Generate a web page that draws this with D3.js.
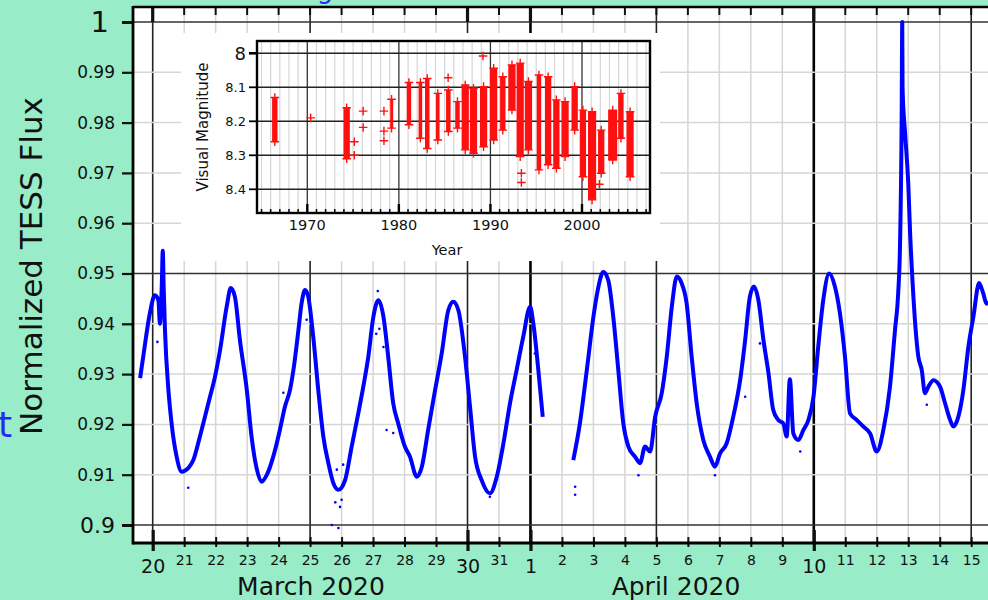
<!DOCTYPE html>
<html>
<head>
<meta charset="utf-8">
<script src="https://cdn.jsdelivr.net/npm/d3@7"></script>
<style>
  body { margin: 0; background: #98ecc8; }
  svg { display: block; font-family: "DejaVu Sans", sans-serif; }
</style>
</head>
<body>
<div id="chart"></div>
<script>
// TESS light curve. Time is counted in days from 1 March 2020, so April 1 = 32
const fluxTime = [19.60, 19.70, 19.91, 20.07, 20.18, 20.23, 20.29, 20.32, 20.35, 20.39, 20.50, 20.60, 20.76, 20.92,
  21.13, 21.29, 21.50, 21.82, 21.98, 22.14, 22.35, 22.48, 22.61, 22.77, 22.99, 23.14, 23.30, 23.46, 23.62, 23.83,
  24.04, 24.20, 24.36, 24.47, 24.63, 24.73, 24.84, 24.94, 25.10, 25.26, 25.42, 25.58, 25.74, 25.90, 26.11, 26.32,
  26.53, 26.69, 26.85, 27.01, 27.17, 27.33, 27.48, 27.64, 27.80, 28.01, 28.17, 28.39, 28.55, 28.75, 28.97, 29.18,
  29.39, 29.55, 29.71, 29.92, 30.08, 30.24, 30.45, 30.71, 30.93, 31.14, 31.35, 31.56, 31.77, 31.99, 32.09, 32.25, 32.39,
  33.36, 33.57, 33.79, 34.00, 34.16, 34.31, 34.47, 34.63, 34.79, 34.95, 35.11, 35.32, 35.48, 35.64, 35.80, 35.96,
  36.17, 36.33, 36.49, 36.65, 36.80, 36.96, 37.12, 37.28, 37.49, 37.70, 37.86, 38.02, 38.23, 38.44, 38.66, 38.82,
  38.97, 39.10, 39.24, 39.40, 39.56, 39.71, 39.87, 40.03, 40.14, 40.24, 40.35, 40.51, 40.67, 40.83, 40.99, 41.14,
  41.30, 41.49, 41.67, 41.83, 41.99, 42.15, 42.36, 42.57, 42.79, 43.00, 43.21, 43.42, 43.58, 43.68, 43.74, 43.79,
  43.81, 43.82, 43.90, 44.00, 44.06, 44.14, 44.32, 44.43, 44.53, 44.64, 44.80, 45.01, 45.17, 45.33, 45.43, 45.59,
  45.75, 45.91, 46.07, 46.25, 46.38, 46.49, 46.60];
const fluxValue = [0.9292, 0.9335, 0.9421, 0.9457, 0.9447, 0.9400, 0.9480, 0.9545, 0.9470, 0.9388, 0.9268, 0.9202, 0.9136, 0.9106,
  0.9113, 0.9129, 0.9176, 0.9255, 0.9295, 0.9348, 0.9434, 0.9471, 0.9454, 0.9368, 0.9268, 0.9176, 0.9113, 0.9086, 0.9099, 0.9136,
  0.9189, 0.9235, 0.9268, 0.9308, 0.9388, 0.9441, 0.9467, 0.9454, 0.9374, 0.9268, 0.9176, 0.9123, 0.9083, 0.9070, 0.9089, 0.9156,
  0.9222, 0.9275, 0.9335, 0.9414, 0.9447, 0.9414, 0.9335, 0.9242, 0.9202, 0.9156, 0.9136, 0.9096, 0.9116, 0.9189, 0.9268, 0.9341,
  0.9427, 0.9444, 0.9427, 0.9335, 0.9235, 0.9136, 0.9089, 0.9063, 0.9096, 0.9162, 0.9242, 0.9308, 0.9374, 0.9434, 0.9401, 0.9308, 0.9215,
  0.9129, 0.9202, 0.9308, 0.9414, 0.9474, 0.9503, 0.9487, 0.9414, 0.9308, 0.9202, 0.9156, 0.9136, 0.9123, 0.9156, 0.9146, 0.9215,
  0.9262, 0.9335, 0.9434, 0.9494, 0.9481, 0.9441, 0.9335, 0.9242, 0.9169, 0.9136, 0.9116, 0.9142, 0.9162, 0.9215, 0.9288, 0.9368,
  0.9454, 0.9474, 0.9447, 0.9368, 0.9302, 0.9229, 0.9209, 0.9202, 0.9176, 0.9290, 0.9182, 0.9169, 0.9189, 0.9209, 0.9255, 0.9354,
  0.9447, 0.9500, 0.9474, 0.9421, 0.9335, 0.9222, 0.9209, 0.9196, 0.9182, 0.9146, 0.9189, 0.9275, 0.9388, 0.9460, 0.9560, 0.9800,
  1.0000, 0.9867, 0.9779, 0.9680, 0.9580, 0.9480, 0.9335, 0.9308, 0.9262, 0.9275, 0.9288, 0.9275, 0.9242, 0.9209, 0.9196, 0.9215,
  0.9268, 0.9354, 0.9414, 0.9481, 0.9461, 0.9440, 0.9445];
// scattered points off the main band
const strayTime = [20.15, 21.13, 24.15, 24.89, 25.69, 25.80, 25.85, 25.90, 25.95, 26.00, 26.05, 27.10, 27.15, 27.20, 27.33,
  27.43, 27.64, 30.71, 32.14, 33.42, 33.42, 35.43, 37.86, 38.82, 39.29, 40.57, 44.59];
const strayValue = [0.9364, 0.9074, 0.9263, 0.9408, 0.9000, 0.9045, 0.9110, 0.8994, 0.9036, 0.9050, 0.9120, 0.9380, 0.9465, 0.9390, 0.9354,
  0.9189, 0.9183, 0.9056, 0.9341, 0.9060, 0.9076, 0.9099, 0.9099, 0.9255, 0.9361, 0.9146, 0.9239];

// inset: visual magnitude, one block per observing season
const seasonStart = [1966.1, 1973.9, 1979.0, 1980.8, 1982.1, 1982.8, 1984.0, 1985.1, 1986.1, 1986.8, 1987.7, 1988.8, 1989.9, 1991.0,
  1991.9, 1992.8, 1993.7, 1995.0, 1995.9, 1996.8, 1997.7, 1998.8, 1999.7, 2000.6, 2001.7, 2002.8, 2003.9, 2004.8];
const seasonEnd = [1966.8, 1974.7, 1979.4, 1981.4, 1982.6, 1983.4, 1984.5, 1985.7, 1986.7, 1987.7, 1988.6, 1989.7, 1990.8, 1991.7,
  1992.8, 1993.7, 1994.6, 1995.6, 1996.7, 1997.6, 1998.6, 1999.6, 2000.5, 2001.6, 2002.5, 2003.9, 2004.6, 2005.7];
const seasonBright = [8.13, 8.16, 8.135, 8.086, 8.086, 8.074, 8.118, 8.108, 8.142, 8.093, 8.103, 8.098, 8.044, 8.069,
  8.034, 8.029, 8.083, 8.064, 8.069, 8.137, 8.142, 8.098, 8.167, 8.172, 8.226, 8.167, 8.118, 8.172];
const seasonFaint = [8.26, 8.31, 8.22, 8.21, 8.25, 8.28, 8.255, 8.23, 8.22, 8.284, 8.294, 8.275, 8.255, 8.226,
  8.167, 8.304, 8.284, 8.343, 8.328, 8.338, 8.304, 8.226, 8.363, 8.431, 8.353, 8.314, 8.25, 8.363];
const singleYear = [1970.37, 1975.13, 1975.13, 1976.10, 1976.10, 1978.37, 1978.37, 1978.37, 1985.38, 1989.19, 1993.38, 1993.38, 2001.9];
const singleMag = [8.19, 8.26, 8.30, 8.17, 8.218, 8.17, 8.229, 8.257, 8.072, 8.008, 8.353, 8.38, 8.385];

const dayTicks = d3.range(20, 47);
const bigDays = [20, 30, 32, 41];
const darkDays = [20, 25, 30, 32, 36, 41, 46];
const thickDays = [32, 41];
const fluxTicks = [0.9, 0.91, 0.92, 0.93, 0.94, 0.95, 0.96, 0.97, 0.98, 0.99, 1];
const darkFlux = [0.9, 0.95, 1];
const magTicks = [8, 8.1, 8.2, 8.3, 8.4];
const yearTicks = [1970, 1980, 1990, 2000];
const minorYears = d3.range(1965, 2008);

const w = 988, h = 600;
const plotLeft = 133, plotRight = 1000, plotTop = 7, plotBottom = 543;

const svg = d3.select("#chart").append("svg")
  .attr("width", w)
  .attr("height", h);

const x = d3.scaleLinear().domain([20, 46]).range([152.7, 971.2]);
const y = d3.scaleLinear().domain([0.9, 1]).range([525, 22]);

svg.append("rect")
  .attr("x", plotLeft).attr("y", plotTop)
  .attr("width", plotRight - plotLeft).attr("height", plotBottom - plotTop)
  .attr("fill", "#fff");

svg.append("clipPath").attr("id", "plotClip")
  .append("rect")
  .attr("x", plotLeft).attr("y", plotTop)
  .attr("width", plotRight - plotLeft).attr("height", plotBottom - plotTop);

// grid
svg.append("g").selectAll("line")
  .data(dayTicks)
  .join("line")
  .attr("x1", d => x(d)).attr("x2", d => x(d))
  .attr("y1", plotTop).attr("y2", plotBottom)
  .attr("stroke", d => thickDays.includes(d) ? "#000" : darkDays.includes(d) ? "#222" : "#d6d6d6")
  .attr("stroke-width", d => thickDays.includes(d) ? 2.6 : darkDays.includes(d) ? 1.6 : 1.5);

svg.append("g").selectAll("line")
  .data(fluxTicks)
  .join("line")
  .attr("x1", plotLeft).attr("x2", plotRight)
  .attr("y1", d => y(d)).attr("y2", d => y(d))
  .attr("stroke", d => darkFlux.includes(d) ? "#333" : "#d6d6d6")
  .attr("stroke-width", 1.5);

// light curve
const plot = svg.append("g").attr("clip-path", "url(#plotClip)");
const pts = fluxTime.map((t, i) => ({ t: t, v: fluxValue[i] }));
const segments = [[]];
pts.forEach((p, i) => {
  if (i > 0 && p.t - pts[i - 1].t > 0.5) segments.push([]);
  segments[segments.length - 1].push(p);
});
const line = d3.line()
  .x(d => x(d.t))
  .y(d => y(d.v))
  .curve(d3.curveMonotoneX);

plot.selectAll("path.flux")
  .data(segments)
  .join("path")
  .attr("class", "flux")
  .attr("d", line)
  .attr("fill", "none")
  .attr("stroke", "#0000ff")
  .attr("stroke-width", 4)
  .attr("stroke-linejoin", "round");

plot.selectAll("circle.stray")
  .data(strayTime.map((t, i) => ({ t: t, v: strayValue[i] })))
  .join("circle")
  .attr("class", "stray")
  .attr("cx", d => x(d.t))
  .attr("cy", d => y(d.v))
  .attr("r", 1.3)
  .attr("fill", "#0000ff");

// axes
const xAxis = svg.append("g")
  .attr("transform", `translate(0,${plotBottom})`)
  .call(d3.axisBottom(x).tickValues(dayTicks).tickSize(4).tickFormat(d => d > 31 ? d - 31 : d));
xAxis.select(".domain").remove();
xAxis.selectAll(".tick line")
  .attr("y1", d => bigDays.includes(d) ? -13 : -6)
  .attr("y2", d => bigDays.includes(d) ? 8 : 4)
  .attr("stroke", "#111")
  .attr("stroke-width", d => bigDays.includes(d) ? 3.2 : 2);
xAxis.selectAll(".tick text")
  .attr("y", d => bigDays.includes(d) ? 30 : 22)
  .attr("dy", null)
  .attr("fill", "#111")
  .style("font-family", "DejaVu Sans")
  .style("font-size", d => bigDays.includes(d) ? "19px" : "14px");

svg.append("g").selectAll("line")
  .data(dayTicks)
  .join("line")
  .attr("x1", d => x(d)).attr("x2", d => x(d))
  .attr("y1", plotTop)
  .attr("y2", d => bigDays.includes(d) ? plotTop + 15 : plotTop + 8)
  .attr("stroke", "#111")
  .attr("stroke-width", d => bigDays.includes(d) ? 3.2 : 2);

const yAxis = svg.append("g")
  .attr("transform", `translate(${plotLeft},0)`)
  .call(d3.axisLeft(y).tickValues(fluxTicks).tickSize(11).tickPadding(7).tickFormat(d3.format("~g")));
yAxis.select(".domain").remove();
yAxis.selectAll(".tick line")
  .attr("stroke", "#111")
  .attr("stroke-width", d => d === 1 || d === 0.9 ? 3 : 2.2);
yAxis.selectAll(".tick text")
  .attr("x", d => d === 1 ? -24 : -18)
  .attr("fill", "#111")
  .style("font-family", "DejaVu Sans")
  .style("font-size", d => d === 1 ? "29px" : d === 0.9 ? "22px" : "17px");

// spines
svg.append("line").attr("x1", plotLeft).attr("x2", plotLeft).attr("y1", plotTop - 1).attr("y2", plotBottom + 1.5)
  .attr("stroke", "#000").attr("stroke-width", 2.8);
svg.append("line").attr("x1", plotLeft).attr("x2", plotRight).attr("y1", plotBottom).attr("y2", plotBottom)
  .attr("stroke", "#000").attr("stroke-width", 3);
svg.append("line").attr("x1", plotLeft).attr("x2", plotRight).attr("y1", plotTop).attr("y2", plotTop)
  .attr("stroke", "#000").attr("stroke-width", 2.4);

svg.append("text")
  .attr("transform", "translate(42,266) rotate(-90)")
  .attr("text-anchor", "middle")
  .attr("fill", "#111")
  .style("font-size", "31px")
  .text("Normalized TESS Flux");

svg.append("text")
  .attr("x", 311).attr("y", 595)
  .attr("text-anchor", "middle")
  .attr("fill", "#111")
  .style("font-size", "25px")
  .text("March 2020");

svg.append("text")
  .attr("x", 676).attr("y", 595)
  .attr("text-anchor", "middle")
  .attr("fill", "#111")
  .style("font-size", "25px")
  .text("April 2020");

// bits of outside text cut by the frame edge
svg.append("text")
  .attr("x", 12).attr("y", 437)
  .attr("text-anchor", "end")
  .attr("fill", "#2828f2")
  .style("font-size", "36px")
  .text("t");
svg.append("text")
  .attr("x", 325).attr("y", -2)
  .attr("text-anchor", "middle")
  .attr("fill", "#2828f2")
  .style("font-size", "26px")
  .text("g");

// inset
const inset = svg.append("g");
const iLeft = 257, iRight = 650, iTop = 41, iBottom = 213;
const xi = d3.scaleLinear().domain([1970, 2000]).range([307.3, 582]);
const yi = d3.scaleLinear().domain([8, 8.4]).range([53.3, 189.3]);

inset.append("rect")
  .attr("x", 181).attr("y", 33)
  .attr("width", 479).attr("height", 228)
  .attr("fill", "#fff");

inset.append("g").selectAll("line")
  .data(minorYears)
  .join("line")
  .attr("x1", d => xi(d)).attr("x2", d => xi(d))
  .attr("y1", iTop).attr("y2", iBottom)
  .attr("stroke", d => yearTicks.includes(d) ? "#333" : "#d6d6d6")
  .attr("stroke-width", d => yearTicks.includes(d) ? 1.3 : 1.2);

inset.append("g").selectAll("line")
  .data(magTicks)
  .join("line")
  .attr("x1", iLeft).attr("x2", iRight)
  .attr("y1", d => yi(d)).attr("y2", d => yi(d))
  .attr("stroke", "#222")
  .attr("stroke-width", 1.4);

const seasons = seasonStart.map((s, i) => ({ s: s, e: seasonEnd[i], b: seasonBright[i], f: seasonFaint[i] }));
inset.append("g").selectAll("rect")
  .data(seasons)
  .join("rect")
  .attr("x", d => xi(d.s) + 0.5)
  .attr("width", d => Math.max(3, xi(d.e) - xi(d.s) - 1))
  .attr("y", d => yi(d.b))
  .attr("height", d => yi(d.f) - yi(d.b))
  .attr("fill", "#ff1010");

const plus = d3.symbol(d3.symbolPlus, 26);
const markers = seasons.flatMap(d => [
  { yr: (d.s + d.e) / 2, m: d.b },
  { yr: (d.s + d.e) / 2, m: d.f }
]).concat(singleYear.map((yr, i) => ({ yr: yr, m: singleMag[i] })));
inset.append("g").selectAll("path")
  .data(markers)
  .join("path")
  .attr("transform", d => `translate(${xi(d.yr)},${yi(d.m)})`)
  .attr("d", plus)
  .attr("fill", "none")
  .attr("stroke", "#ff1010")
  .attr("stroke-width", 1.4);

inset.append("g").selectAll("line")
  .data(minorYears)
  .join("line")
  .attr("x1", d => xi(d)).attr("x2", d => xi(d))
  .attr("y1", iBottom)
  .attr("y2", d => yearTicks.includes(d) ? iBottom - 9 : iBottom - 4)
  .attr("stroke", "#000")
  .attr("stroke-width", d => yearTicks.includes(d) ? 2.4 : 1.5);

inset.append("g").selectAll("text")
  .data(yearTicks)
  .join("text")
  .attr("x", d => xi(d)).attr("y", 230)
  .attr("text-anchor", "middle")
  .attr("fill", "#111")
  .style("font-size", "14.5px")
  .text(d => d);

inset.append("g").selectAll("line")
  .data(magTicks)
  .join("line")
  .attr("x1", iLeft - 8).attr("x2", iLeft)
  .attr("y1", d => yi(d)).attr("y2", d => yi(d))
  .attr("stroke", "#000")
  .attr("stroke-width", d => d === 8 ? 2.6 : 1.8);

inset.append("g").selectAll("text")
  .data(magTicks)
  .join("text")
  .attr("x", 246).attr("y", d => yi(d))
  .attr("dy", "0.36em")
  .attr("text-anchor", "end")
  .attr("fill", "#111")
  .style("font-size", d => d === 8 ? "18px" : "13px")
  .text(d => d3.format("~g")(d));

inset.append("rect")
  .attr("x", iLeft).attr("y", iTop)
  .attr("width", iRight - iLeft).attr("height", iBottom - iTop)
  .attr("fill", "none")
  .attr("stroke", "#000")
  .attr("stroke-width", 2.4);

inset.append("text")
  .attr("x", 447).attr("y", 255)
  .attr("text-anchor", "middle")
  .attr("fill", "#111")
  .style("font-size", "14.5px")
  .text("Year");

inset.append("text")
  .attr("transform", "translate(208,127) rotate(-90)")
  .attr("text-anchor", "middle")
  .attr("fill", "#111")
  .style("font-size", "15px")
  .text("Visual Magnitude");
</script>
</body>
</html>
